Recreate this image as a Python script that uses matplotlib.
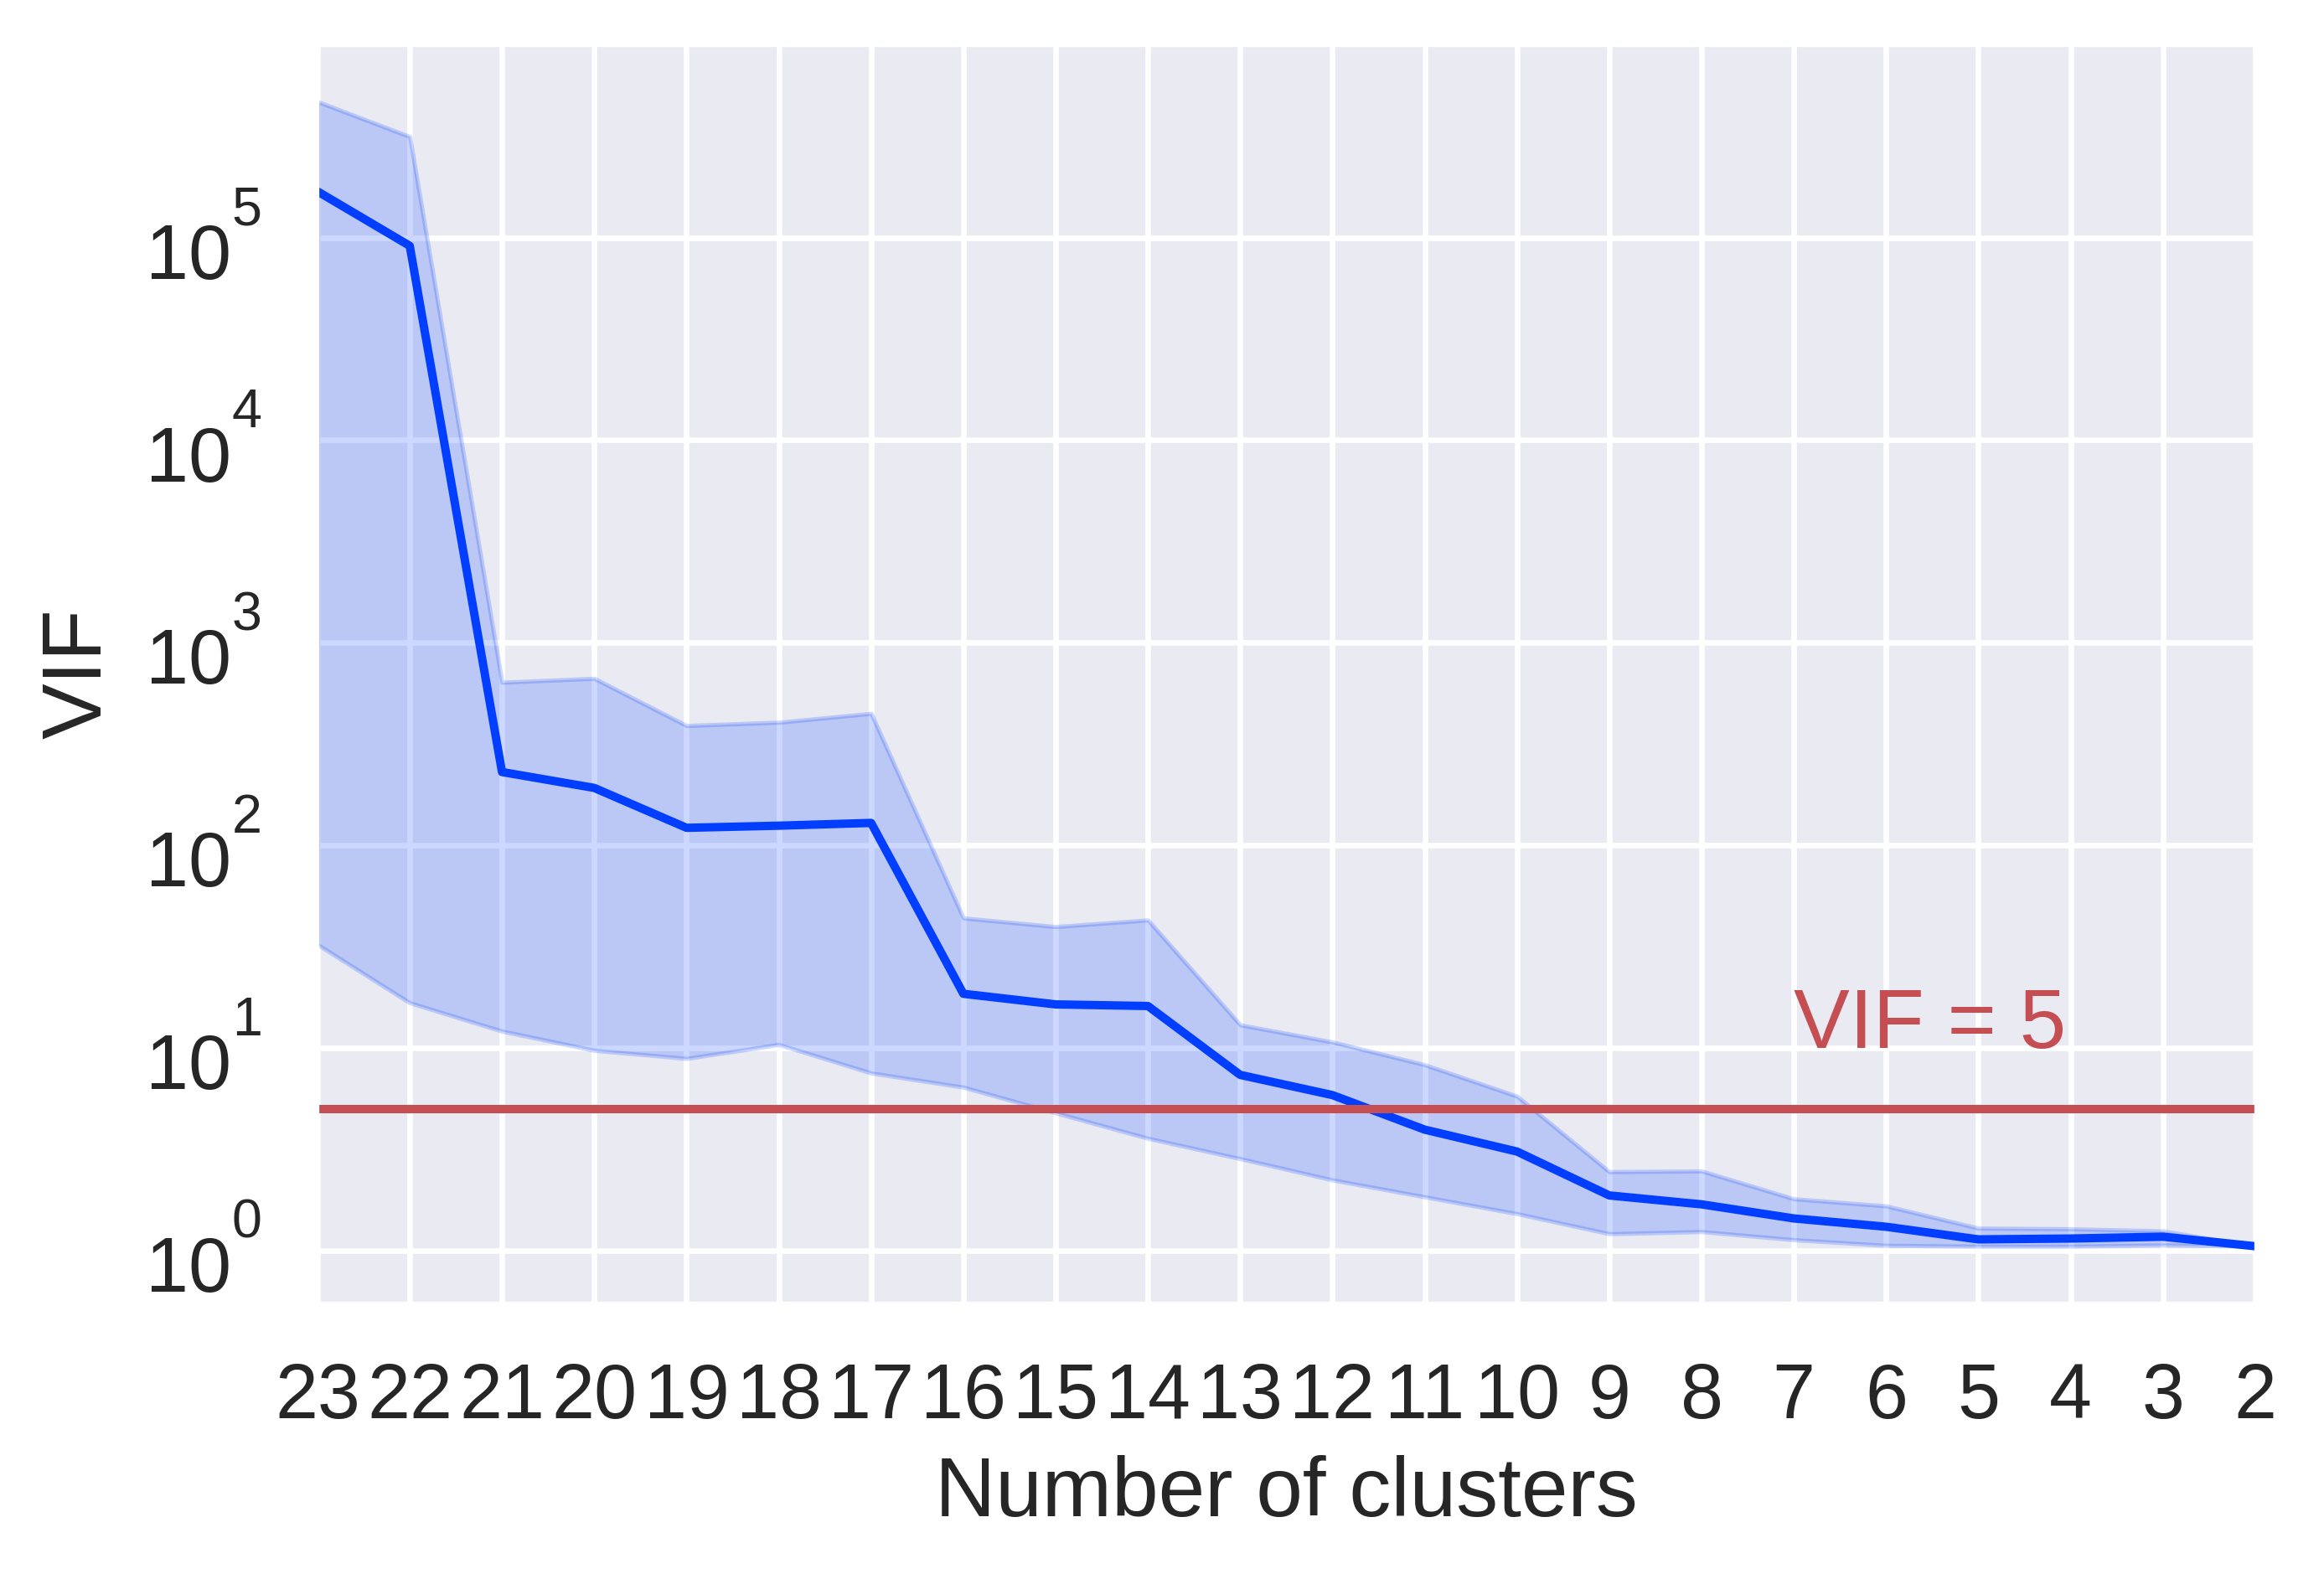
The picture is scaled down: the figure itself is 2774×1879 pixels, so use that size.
import numpy as np
import matplotlib
matplotlib.use('Agg')
import matplotlib.pyplot as plt
import matplotlib.transforms as mtransforms
import seaborn as sns

# number of clusters (x axis runs from 23 down to 2)
clusters = list(range(23, 1, -1))

# VIF summary per clustering step
vif_mean = [1.69e5, 9.1e4, 230, 192, 122, 125, 129, 18.5, 16.4, 16.1, 7.36,
            5.85, 3.95, 3.08, 1.87, 1.69, 1.44, 1.31, 1.135, 1.146, 1.17, 1.05]
vif_upper = [4.69e5, 3.15e5, 638, 667, 390, 405, 448, 43.8, 39.7, 42.8, 13.0,
             10.7, 8.26, 5.78, 2.45, 2.47, 1.80, 1.66, 1.29, 1.28, 1.25, 1.05]
vif_lower = [32.4, 16.7, 12.1, 9.73, 8.87, 10.4, 7.52, 6.4, 4.78, 3.58, 2.84,
             2.23, 1.84, 1.52, 1.21, 1.24, 1.13, 1.06, 1.05, 1.05, 1.065, 1.05]

vif_threshold = 5
decades = [0, 1, 2, 3, 4, 5]

sns.set_style('darkgrid')
plt.rcParams['font.family'] = ['Liberation Sans', 'DejaVu Sans']

fig, ax = plt.subplots(figsize=(2774 / 300, 1879 / 300), dpi=300)
fig.subplots_adjust(left=0.1366, right=0.9704, top=0.9713, bottom=0.1724)

ax.fill_between(clusters, vif_lower, vif_upper, color='#023eff', alpha=0.2, linewidth=1.2)
ax.plot(clusters, vif_mean, color='#023eff', lw=2.4)
ax.axhline(vif_threshold, color='#c44e52', lw=2.4)
ax.text(7, 10, 'VIF = %d' % vif_threshold, color='#c44e52', fontsize=24)

ax.set_yscale('log')
ax.set_xlim(23, 2)
ax.set_ylim(0.553, 8.9e5)
ax.set_xticks(clusters)
ax.set_yticks([10.0 ** k for k in decades])
ax.tick_params(labelsize=22, length=0, pad=17, colors='.15')
ax.tick_params(axis='y', labelleft=False)
ax.grid(True, which='major', color='white', lw=1.6)

# y tick labels written out as 10 with a raised exponent
blend = mtransforms.blended_transform_factory(ax.transAxes, ax.transData)
base_tr = mtransforms.offset_copy(blend, fig=fig, x=-24.7, y=-11.8, units='points')
exp_tr = mtransforms.offset_copy(blend, fig=fig, x=-24.5, y=3.6, units='points')
for k in decades:
    ax.text(0, 10.0 ** k, '10', transform=base_tr, ha='right', va='baseline',
            fontsize=22, color='.15')
    ax.text(0, 10.0 ** k, str(k), transform=exp_tr, ha='left', va='baseline',
            fontsize=15.5, color='.15')

ax.set_xlabel('Number of clusters', fontsize=24, labelpad=6)
ax.set_ylabel('VIF', fontsize=24)
ax.yaxis.set_label_coords(-0.1025, 0.5)

fig.savefig('out.png', dpi=300)
